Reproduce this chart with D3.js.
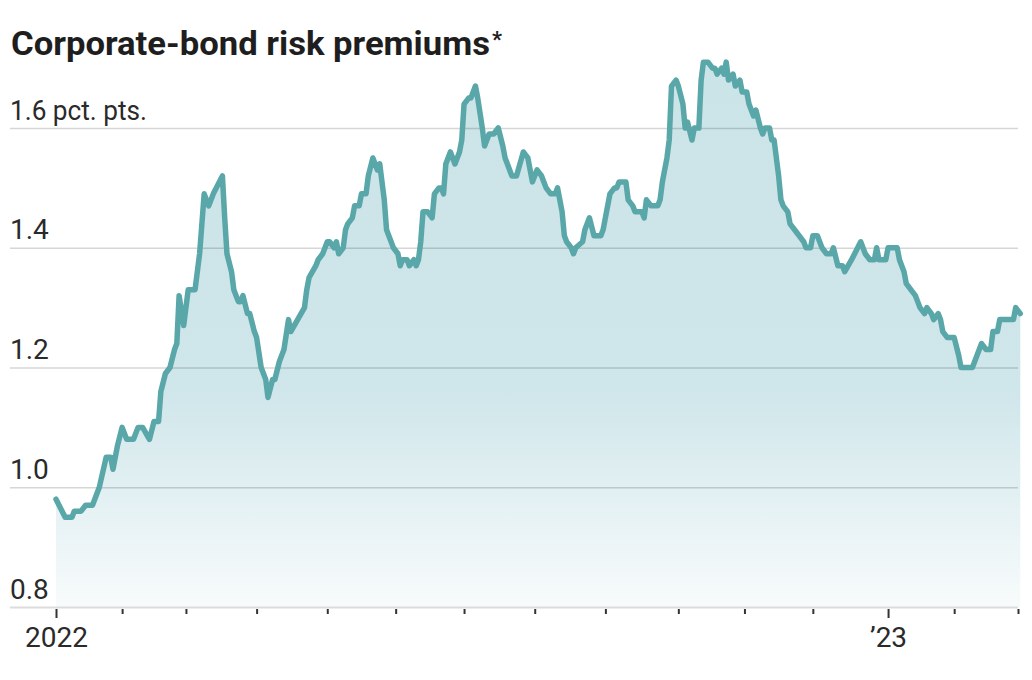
<!DOCTYPE html>
<html><head><meta charset="utf-8">
<script src="https://cdn.jsdelivr.net/npm/d3@7"></script>
<style>body{margin:0;background:#fff} svg{display:block}</style>
</head><body><svg id="c" width="1032" height="680"></svg>
<script>
const dates = ["2022-01-03","2022-01-07","2022-01-10","2022-01-11","2022-01-14","2022-01-16","2022-01-19","2022-01-22","2022-01-25","2022-01-27","2022-01-28","2022-01-30",
"2022-02-01","2022-02-03","2022-02-06","2022-02-08","2022-02-10","2022-02-13","2022-02-15","2022-02-17","2022-02-18","2022-02-20","2022-02-22","2022-02-24","2022-02-25","2022-02-26","2022-02-28",
"2022-03-01","2022-03-02","2022-03-05","2022-03-07","2022-03-09","2022-03-11","2022-03-13","2022-03-17","2022-03-18","2022-03-19","2022-03-21","2022-03-22","2022-03-24","2022-03-25","2022-03-26","2022-03-28","2022-03-29","2022-03-31",
"2022-04-01","2022-04-03","2022-04-05","2022-04-06","2022-04-08","2022-04-09","2022-04-11","2022-04-13","2022-04-15","2022-04-16","2022-04-19","2022-04-22","2022-04-23","2022-04-24","2022-04-27","2022-04-28","2022-04-30",
"2022-05-02","2022-05-03","2022-05-05","2022-05-06","2022-05-07","2022-05-09","2022-05-10","2022-05-11","2022-05-13","2022-05-14","2022-05-16","2022-05-17","2022-05-19","2022-05-20","2022-05-22","2022-05-24","2022-05-25","2022-05-27","2022-05-28","2022-05-30","2022-05-31",
"2022-06-02","2022-06-03","2022-06-04","2022-06-06","2022-06-07","2022-06-09","2022-06-10","2022-06-11","2022-06-12","2022-06-13","2022-06-15","2022-06-17","2022-06-18","2022-06-20","2022-06-21","2022-06-22","2022-06-23","2022-06-25","2022-06-27","2022-06-29","2022-06-30",
"2022-07-01","2022-07-03","2022-07-04","2022-07-06","2022-07-07","2022-07-09","2022-07-10","2022-07-12","2022-07-14","2022-07-16","2022-07-18","2022-07-19","2022-07-22","2022-07-24","2022-07-27","2022-07-29","2022-07-30","2022-07-31",
"2022-08-02","2022-08-04","2022-08-06","2022-08-08","2022-08-10","2022-08-11","2022-08-13","2022-08-14","2022-08-15","2022-08-17","2022-08-18","2022-08-19","2022-08-22","2022-08-23","2022-08-25","2022-08-27","2022-08-28","2022-08-30","2022-08-31",
"2022-09-01","2022-09-03","2022-09-05","2022-09-06","2022-09-07","2022-09-10","2022-09-11","2022-09-13","2022-09-14","2022-09-17","2022-09-18","2022-09-19","2022-09-21","2022-09-24","2022-09-25","2022-09-26","2022-09-28","2022-09-29","2022-09-30",
"2022-10-02","2022-10-03","2022-10-05","2022-10-06","2022-10-07","2022-10-09","2022-10-10","2022-10-12","2022-10-13","2022-10-14","2022-10-16","2022-10-18","2022-10-19","2022-10-20","2022-10-22","2022-10-23","2022-10-24","2022-10-25","2022-10-27","2022-10-28","2022-10-30","2022-10-31",
"2022-11-02","2022-11-03","2022-11-05","2022-11-06","2022-11-08","2022-11-09","2022-11-10","2022-11-12","2022-11-13","2022-11-14","2022-11-16","2022-11-17","2022-11-18","2022-11-20","2022-11-21","2022-11-23","2022-11-25","2022-11-27","2022-11-28","2022-11-30",
"2022-12-01","2022-12-03","2022-12-05","2022-12-07","2022-12-09","2022-12-10","2022-12-12","2022-12-14","2022-12-15","2022-12-18","2022-12-22","2022-12-24","2022-12-26","2022-12-28","2022-12-29","2022-12-30",
"2023-01-02","2023-01-03","2023-01-07","2023-01-08","2023-01-10","2023-01-11","2023-01-13","2023-01-15","2023-01-16","2023-01-17","2023-01-19","2023-01-20","2023-01-22","2023-01-23","2023-01-25","2023-01-26","2023-01-27","2023-01-29",
"2023-02-01","2023-02-03","2023-02-04","2023-02-09","2023-02-11","2023-02-12","2023-02-13","2023-02-15","2023-02-17","2023-02-18","2023-02-20","2023-02-21","2023-02-26","2023-02-27","2023-02-28","2023-03-02"];
const values = [0.98,0.95,0.95,0.96,0.96,0.97,0.97,1.00,1.05,1.05,1.03,1.07,
1.10,1.08,1.08,1.10,1.10,1.08,1.11,1.11,1.16,1.19,1.20,1.23,1.24,1.32,1.27,
1.30,1.33,1.33,1.39,1.49,1.47,1.49,1.52,1.45,1.39,1.36,1.33,1.31,1.31,1.32,1.29,1.29,1.26,
1.25,1.20,1.18,1.15,1.18,1.18,1.21,1.23,1.28,1.26,1.28,1.30,1.33,1.35,1.37,1.38,1.39,
1.41,1.41,1.40,1.41,1.39,1.40,1.43,1.44,1.45,1.47,1.47,1.49,1.49,1.52,1.55,1.53,1.54,1.48,1.43,1.41,1.40,
1.39,1.37,1.38,1.38,1.37,1.38,1.37,1.38,1.41,1.46,1.46,1.45,1.49,1.50,1.50,1.49,1.54,1.56,1.54,1.56,1.58,
1.64,1.65,1.65,1.67,1.65,1.60,1.57,1.59,1.59,1.60,1.57,1.55,1.52,1.52,1.56,1.55,1.53,1.51,
1.53,1.52,1.50,1.49,1.49,1.50,1.46,1.42,1.41,1.40,1.39,1.40,1.41,1.43,1.45,1.42,1.42,1.42,1.43,
1.45,1.49,1.50,1.50,1.51,1.51,1.48,1.47,1.46,1.46,1.45,1.48,1.47,1.47,1.48,1.51,1.55,1.58,1.67,
1.68,1.67,1.64,1.60,1.61,1.58,1.60,1.60,1.68,1.71,1.71,1.70,1.70,1.69,1.70,1.69,1.71,1.68,1.69,1.67,1.68,1.66,
1.66,1.64,1.62,1.63,1.60,1.59,1.60,1.60,1.58,1.58,1.52,1.48,1.47,1.46,1.44,1.43,1.42,1.41,1.40,1.40,
1.42,1.42,1.40,1.39,1.39,1.40,1.37,1.37,1.36,1.38,1.41,1.39,1.38,1.38,1.40,1.38,
1.38,1.40,1.40,1.38,1.36,1.34,1.33,1.32,1.31,1.30,1.29,1.30,1.29,1.28,1.29,1.28,1.26,1.25,
1.25,1.22,1.20,1.20,1.22,1.23,1.24,1.23,1.23,1.26,1.26,1.28,1.28,1.28,1.30,1.29];
const yTicks = [0.8, 1.0, 1.2, 1.4, 1.6];
const yTickLabels = ["0.8", "1.0", "1.2", "1.4", "1.6 pct. pts."];
const xTickDates = ["2022-01-03","2022-02-01","2022-03-01","2022-04-01","2022-05-02","2022-06-01","2022-07-01","2022-08-01","2022-09-01","2022-10-03","2022-11-01","2022-12-01","2023-01-03","2023-02-01","2023-03-01"];
const xTickLabels = ["2022","","","","","","","","","","","","’23","",""];
const titleText = "Corporate-bond risk premiums";
const titleMark = "*";

const parse = d3.utcParse("%Y-%m-%d");
const data = dates.map((d, i) => ({ date: parse(d), value: values[i] }));
const tickDates = xTickDates.map(parse);
const font = "Roboto, 'Noto Sans', sans-serif";

const svg = d3.select("#c");
const x = d3.scaleUtc().domain([parse("2022-01-03"), parse("2023-03-01")]).range([56, 1018]);
const y = d3.scaleLinear().domain([0.8, 1.6]).range([607, 128]);

const defs = svg.append("defs");
const grad = defs.append("linearGradient").attr("id", "fillGrad")
  .attr("gradientUnits", "userSpaceOnUse").attr("x1", 0).attr("x2", 0).attr("y1", 60).attr("y2", 607);
grad.append("stop").attr("offset", 0).attr("stop-color", "#cbe4e8");
grad.append("stop").attr("offset", 0.6).attr("stop-color", "#cfe6ea");
grad.append("stop").attr("offset", 1).attr("stop-color", "#f8fbfc");

// title
const title = svg.append("text").attr("x", 11).attr("y", 55)
  .attr("font-family", font).attr("font-weight", 700)
  .attr("font-size", 33).attr("fill", "#1e1e1e").text(titleText)
  .attr("textLength", 479).attr("lengthAdjust", "spacingAndGlyphs");
svg.append("text").attr("x", 492).attr("y", 47)
  .attr("font-family", font).attr("font-weight", 700)
  .attr("font-size", 22).attr("fill", "#1e1e1e").text(titleMark);

// area
svg.append("path").datum(data)
  .attr("fill", "url(#fillGrad)")
  .attr("d", d3.area().x(d => x(d.date)).y0(y(0.8)).y1(d => y(d.value)));

// y gridlines + labels
const yAxis = svg.append("g").attr("transform", "translate(10,0)")
  .call(d3.axisRight(y).tickValues(yTicks).tickSize(1008).tickFormat((d, i) => yTickLabels[i]));
yAxis.select(".domain").remove();
yAxis.selectAll(".tick line").attr("stroke", "rgba(0,0,0,0.16)").attr("stroke-width", 1.5)
  .filter(d => d === 0.8).attr("stroke", "#dcdcdc").attr("stroke-width", 2);
yAxis.selectAll(".tick text").attr("x", 0).attr("dy", -9).attr("text-anchor", "start")
  .attr("font-family", font).attr("font-size", 28)
  .attr("fill", "#2a2a2a");
yAxis.selectAll(".tick text").filter((d, i) => i === yTicks.length - 1)
  .attr("textLength", 137).attr("lengthAdjust", "spacingAndGlyphs");

// line
svg.append("path").datum(data)
  .attr("fill", "none").attr("stroke", "#5aa7a9").attr("stroke-width", 5.5)
  .attr("stroke-linejoin", "round").attr("stroke-linecap", "round")
  .attr("d", d3.line().x(d => x(d.date)).y(d => y(d.value)));

// x axis
const xAxis = svg.append("g").attr("transform", "translate(0,609)")
  .call(d3.axisBottom(x).tickValues(tickDates).tickSize(5).tickPadding(10)
    .tickFormat((d, i) => xTickLabels[i]));
xAxis.select(".domain").remove();
xAxis.selectAll(".tick line").attr("stroke", "#333").attr("stroke-width", 2)
  .filter((d, i) => xTickLabels[i] !== "").attr("y2", 9);
xAxis.selectAll(".tick text").attr("font-family", font)
  .attr("font-size", 28).attr("fill", "#2a2a2a").attr("dy", "0.71em").attr("y", 18);
</script></body></html>
